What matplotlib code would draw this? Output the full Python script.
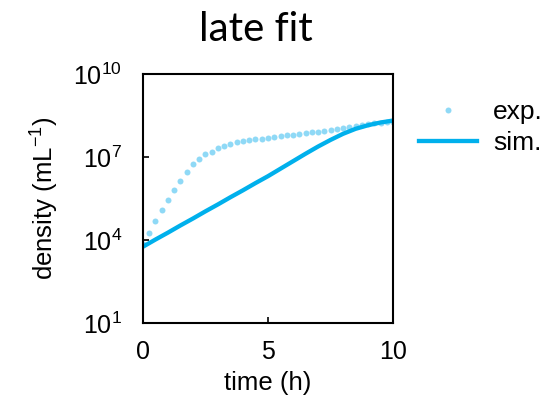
import matplotlib.pyplot as plt
import numpy as np

# experimental data: time (h) and log10 density (mL^-1)
t_exp = np.arange(0, 10.01, 0.25)
logd_exp = [3.85, 4.24, 4.69, 5.08, 5.45, 5.81, 6.13, 6.46, 6.75, 6.94,
            7.10, 7.19, 7.31, 7.40, 7.47, 7.53, 7.58, 7.61, 7.64, 7.67,
            7.70, 7.73, 7.75, 7.78, 7.80, 7.83, 7.86, 7.89, 7.92, 7.94,
            7.97, 8.01, 8.05, 8.09, 8.13, 8.16, 8.19, 8.22, 8.24, 8.26, 8.27]

# simulation (late fit)
t_sim = np.arange(0, 10.01, 0.5)
logd_sim = [3.76, 4.02, 4.27, 4.53, 4.78, 5.04, 5.29, 5.55, 5.80, 6.06,
            6.31, 6.58, 6.85, 7.12, 7.38, 7.62, 7.84, 8.02, 8.15, 8.25, 8.32]

xticks = [0, 5, 10]
yticks = [1e1, 1e4, 1e7, 1e10]

plt.rcParams['font.family'] = ['Liberation Sans', 'DejaVu Sans']
plt.rcParams['mathtext.fontset'] = 'custom'
plt.rcParams['mathtext.rm'] = 'Liberation Sans'
plt.rcParams['mathtext.it'] = 'Liberation Sans:italic'

fig = plt.figure(figsize=(5.56, 3.98), dpi=100)
ax = fig.add_axes([0.257, 0.188, 0.45, 0.626])

ax.plot(t_exp, 10 ** np.array(logd_exp), 'o', color='#8fd9f6', ms=4.3,
        mec='none', label='exp.')
ax.plot(t_sim, 10 ** np.array(logd_sim), '-', color='#00b0ec', lw=3.1,
        label='sim.')

ax.set_yscale('log')
ax.set_xlim(0, 10)
ax.set_ylim(1e1, 1e10)
ax.set_xticks(xticks)
ax.set_xticklabels([str(v) for v in xticks])
ax.set_yticks(yticks)
ax.set_yticklabels(['$10^{1}$', '$10^{4}$', '$10^{7}$', '$10^{10}$'])
ax.minorticks_off()
ax.tick_params(direction='in', length=4, width=1.2, labelsize=18,
               top=False, right=False)
ax.tick_params(axis='x', pad=12)
ax.tick_params(axis='y', pad=15)
for s in ax.spines.values():
    s.set_linewidth(1.5)

ax.set_xlabel('time (h)', fontsize=18.5, labelpad=5)
ax.set_ylabel('density (mL$^{-1}$)', fontsize=18.5, labelpad=9)

fig.text(0.46, 0.925, 'late fit', ha='center', va='center',
         fontsize=29, family=['Lato', 'DejaVu Sans'])

ax.legend(loc='upper left', bbox_to_anchor=(1.01, 0.99), frameon=False,
          fontsize=19, numpoints=1, handlelength=2.2, handletextpad=0.6,
          labelspacing=0.25)

plt.savefig('out.png', dpi=100)
